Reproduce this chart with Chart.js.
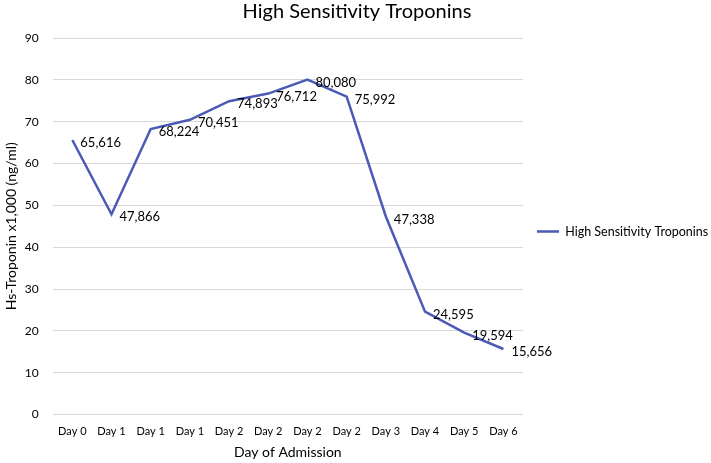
<!DOCTYPE html>
<html>
<head>
<meta charset="utf-8">
<script src="https://cdn.jsdelivr.net/npm/chart.js@4/dist/chart.umd.min.js"></script>
<style>
  body { margin: 0; background: #fff; }
  #wrap { width: 711px; height: 463px; }
</style>
</head>
<body>
<div id="wrap"><canvas id="grafico" width="711" height="463"></canvas></div>
<script>
const dias = ['Day 0', 'Day 1', 'Day 1', 'Day 1', 'Day 2', 'Day 2', 'Day 2', 'Day 2', 'Day 3', 'Day 4', 'Day 5', 'Day 6']
const troponinas = [65.616, 47.866, 68.224, 70.451, 74.893, 76.712, 80.080, 75.992, 47.338, 24.595, 19.594, 15.656]
const fuente = 'Lato, "Open Sans", sans-serif'
const extraLeyenda = 11

// etiquetas a la derecha de cada punto
const etiquetas = {
   id: 'etiquetas',
   afterDatasetsDraw(chart) {
      const ctx = chart.ctx
      const meta = chart.getDatasetMeta(0)
      ctx.save()
      ctx.font = '13px ' + fuente
      ctx.fillStyle = '#000'
      ctx.textAlign = 'left'
      ctx.textBaseline = 'middle'
      meta.data.forEach(function (p, i) {
         const txt = Math.round(troponinas[i] * 1000).toLocaleString('en-US')
         ctx.fillText(txt, p.x + 8, p.y + 3)
      })
      ctx.restore()
   }
}

// deja un hueco entre el grafico y la leyenda
const huecoLeyenda = {
   id: 'huecoLeyenda',
   beforeLayout(chart) {
      const ley = chart.legend
      if (ley && !ley._parche) {
         const fit = ley.fit
         ley.fit = function () {
            fit.call(this)
            this.width += extraLeyenda
         }
         ley._parche = true
      }
   },
   afterLayout(chart) {
      if (chart.legend) {
         chart.legend.left += extraLeyenda
         chart.legend.right += extraLeyenda
      }
   }
}

const ctx = document.getElementById('grafico').getContext('2d')
const myChart = new Chart(ctx, {
   type: 'line',
   data: {
      labels: dias,
      datasets: [{
         label: 'High Sensitivity Troponins',
         data: troponinas,
         borderColor: '#4A5AB5',
         backgroundColor: '#4A5AB5',
         borderWidth: 2.5,
         pointRadius: 0,
         tension: 0
      }]
   },
   options: {
      responsive: false,
      animation: false,
      layout: { padding: { top: 0, right: 0, left: 3, bottom: 0 } },
      plugins: {
         title: {
            display: true,
            text: 'High Sensitivity Troponins',
            color: '#000',
            font: { family: fuente, size: 20, weight: 'normal' },
            padding: { top: 0, bottom: 14 }
         },
         legend: {
            position: 'right',
            labels: {
               color: '#000',
               font: { family: fuente, size: 12.5 },
               boxWidth: 22,
               boxHeight: 0,
               padding: 3
            }
         },
         tooltip: { enabled: false }
      },
      scales: {
         x: {
            offset: true,
            grid: { display: false, offset: true },
            border: { display: false },
            ticks: { color: '#000', font: { family: fuente, size: 11 }, maxRotation: 0, autoSkip: false, padding: 2 },
            title: { display: true, text: 'Day of Admission', color: '#000', font: { family: fuente, size: 14 }, padding: { top: 0, bottom: 2.5 } },
            afterFit: function (escala) { escala.height += 4 }
         },
         y: {
            min: 0,
            max: 90,
            ticks: { stepSize: 10, color: '#000', font: { family: fuente, size: 12 }, padding: 14 },
            grid: { color: '#d9d9d9', lineWidth: 1, drawTicks: false },
            border: { display: false },
            title: { display: true, text: 'Hs-Troponin x1,000 (ng/ml)', color: '#000', font: { family: fuente, size: 14 }, padding: { top: 0, bottom: 4 } },
            afterFit: function (escala) { escala.width -= 13 }
         }
      }
   },
   plugins: [etiquetas, huecoLeyenda]
})
</script>
</body>
</html>
